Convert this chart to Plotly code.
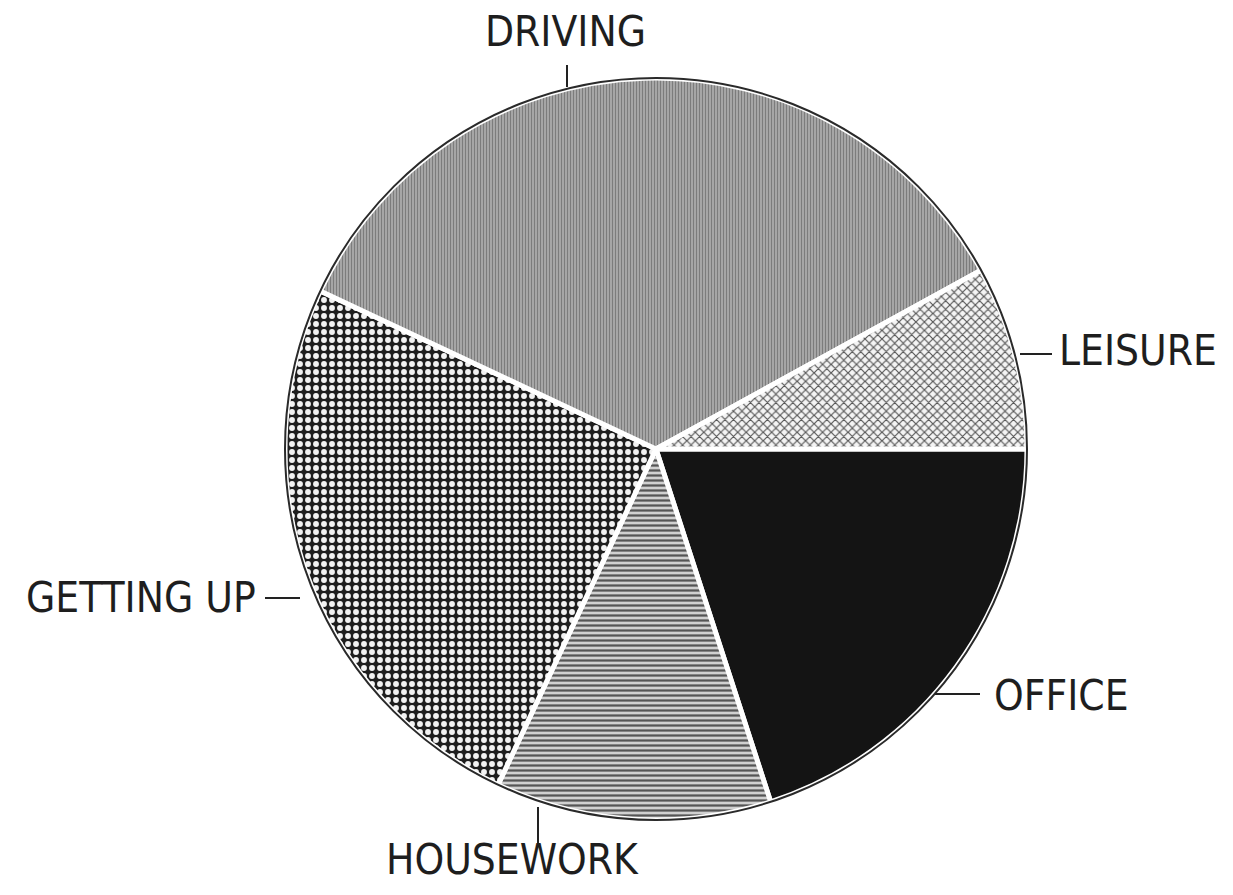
import plotly.graph_objects as go

# ---- data ----
labels = ["OFFICE", "HOUSEWORK", "GETTING UP", "DRIVING", "LEISURE"]
values = [20, 12, 25, 35, 8]

PAGE_W, PAGE_H = 1233, 895
OFF = 8  # default body margin of the html page
W, H = PAGE_W - 2 * OFF, PAGE_H - 2 * OFF
CX, CY, R = 656, 449, 371  # pie centre and radius in page pixels


def px(x, y):
    return (x - OFF) / W, 1 - (y - OFF) / H


fills = {
    "OFFICE": dict(shape="", bg="#141414", fg="#141414", size=6, sol=0.3),
    "HOUSEWORK": dict(shape="-", bg="#d0d0d0", fg="#555555", size=5, sol=0.45),
    "GETTING UP": dict(shape=".", bg="#1e1e1e", fg="#f2f2f2", size=8, sol=0.42),
    "DRIVING": dict(shape="|", bg="#ababab", fg="#7c7c7c", size=3, sol=0.4),
    "LEISURE": dict(shape="x", bg="#f4f4f4", fg="#555555", size=6, sol=0.35),
}

dx0, dy1 = px(CX - R, CY - R)
dx1, dy0 = px(CX + R, CY + R)

fig = go.Figure(
    go.Pie(
        labels=labels,
        values=values,
        sort=False,
        direction="clockwise",
        rotation=90,
        textinfo="none",
        hoverinfo="label+percent",
        showlegend=False,
        domain=dict(x=[dx0, dx1], y=[dy0, dy1]),
        marker=dict(
            colors=[fills[l]["bg"] for l in labels],
            line=dict(color="white", width=5),
            pattern=dict(
                shape=[fills[l]["shape"] for l in labels],
                bgcolor=[fills[l]["bg"] for l in labels],
                fgcolor=[fills[l]["fg"] for l in labels],
                size=[fills[l]["size"] for l in labels],
                solidity=[fills[l]["sol"] for l in labels],
                fillmode="replace",
            ),
        ),
    )
)

FONT = dict(family="Liberation Sans Narrow, DejaVu Sans Condensed, DejaVu Sans, sans-serif",
            size=42, color="#1e1e1e")

# label text placements (page pixels): x, y, anchor
label_pos = {
    "DRIVING": (565, 31, "center"),
    "LEISURE": (1057, 350, "left"),
    "OFFICE": (992, 695, "left"),
    "HOUSEWORK": (512, 859, "center"),
    "GETTING UP": (258, 597, "right"),
}
leaders = {
    "DRIVING": ((567, 65), (567, 87)),
    "LEISURE": ((1020, 354), (1052, 354)),
    "OFFICE": ((935, 694), (980, 694)),
    "HOUSEWORK": ((538, 807), (538, 846)),
    "GETTING UP": ((265, 598), (300, 598)),
}

annotations = []
shapes = []
for l in labels:
    x, y, anc = label_pos[l]
    ax, ay = px(x, y)
    annotations.append(dict(text=l, x=ax, y=ay, xref="paper", yref="paper",
                            xanchor=anc, yanchor="middle", showarrow=False, font=FONT))
    (x0, y0), (x1, y1) = leaders[l]
    p0, p1 = px(x0, y0), px(x1, y1)
    shapes.append(dict(type="line", xref="paper", yref="paper", x0=p0[0], y0=p0[1],
                       x1=p1[0], y1=p1[1], line=dict(color="#222", width=2)))

shapes.append(dict(type="circle", xref="paper", yref="paper", x0=dx0, y0=dy0,
                   x1=dx1, y1=dy1, line=dict(color="#2a2a2a", width=2), layer="above"))

fig.update_layout(
    width=W, height=H,
    margin=dict(l=0, r=0, t=0, b=0),
    paper_bgcolor="white", plot_bgcolor="white",
    annotations=annotations, shapes=shapes,
)

fig.write_html("out.html")
